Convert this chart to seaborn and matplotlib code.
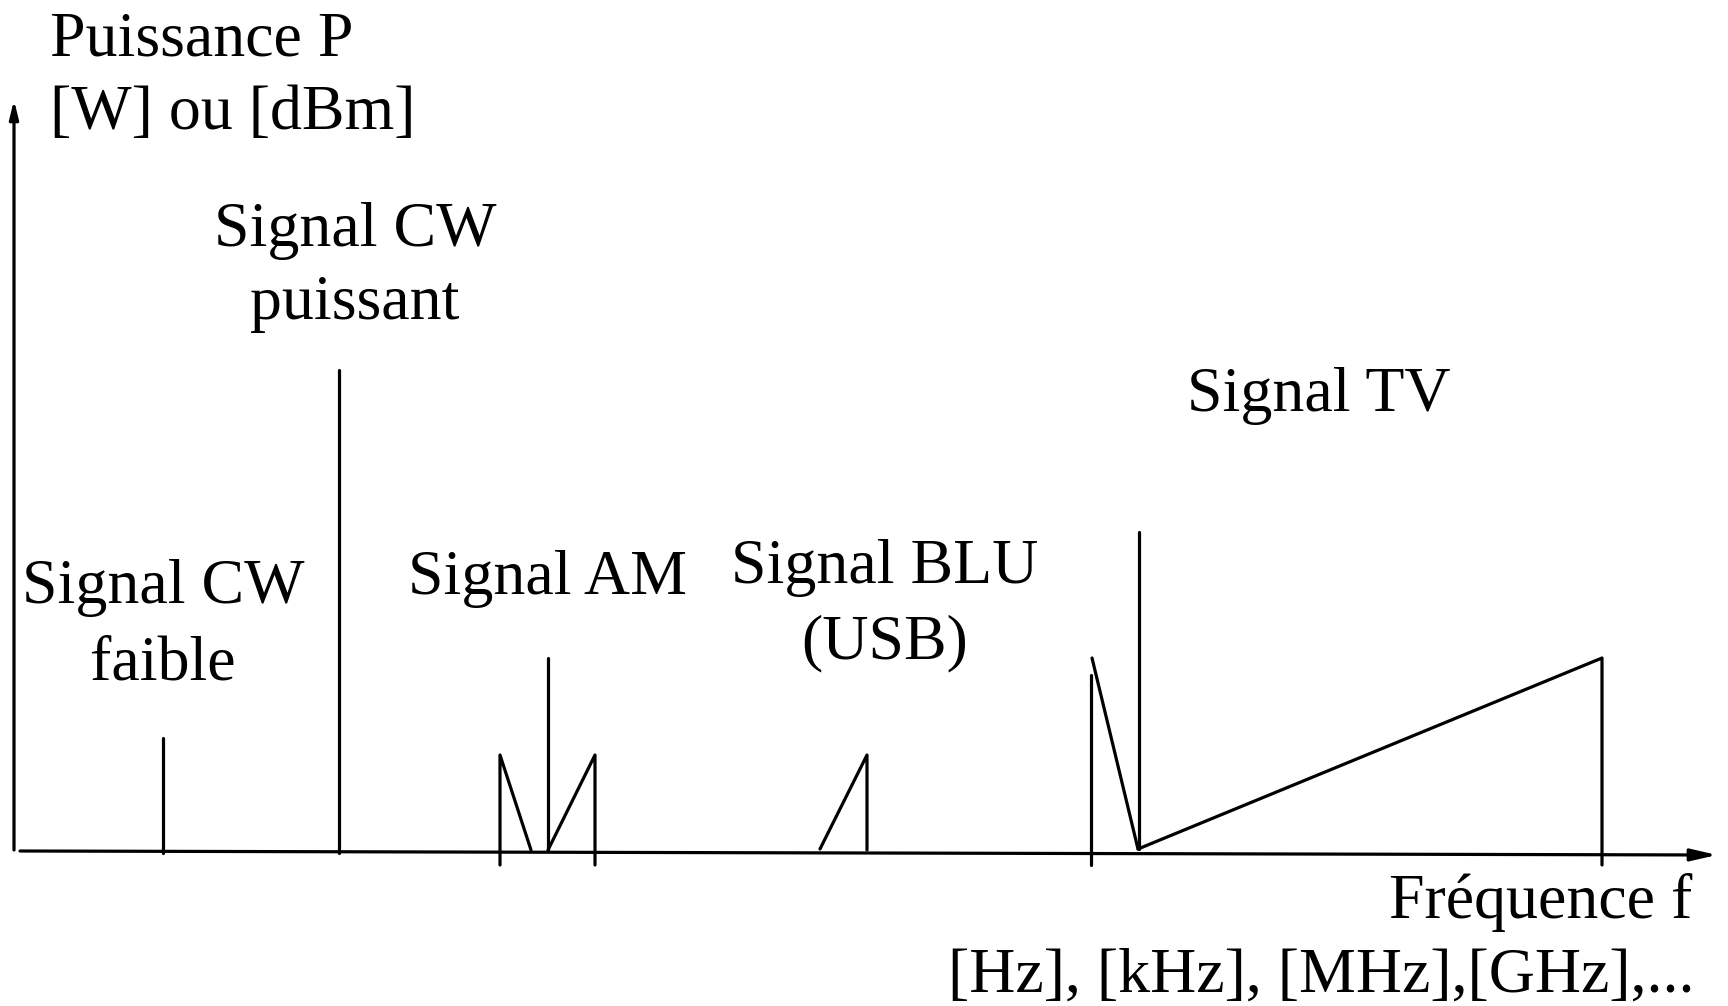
import pandas as pd
import seaborn as sns
import matplotlib.pyplot as plt

# spectrum traces: frequency position / power (baseline = 0)
trace_names = ['cw_faible', 'cw_puissant',
               'am_lsb', 'am_carrier', 'am_usb',
               'blu',
               'tv_left', 'tv_vsb', 'tv_carrier', 'tv_ramp']
trace_f = [[163, 163], [339, 339],
           [500, 500, 531], [548, 548], [548, 595, 595],
           [820, 867, 867],
           [1091, 1091], [1092, 1138], [1139, 1139], [1138, 1602, 1602]]
trace_p = [[0, 115], [0, 483],
           [-12, 98, 3], [3, 195], [3, 98, -12],
           [4, 98, 3],
           [-12, 178], [195, 4], [4, 321], [4, 195, -12]]

rows = []
for name, fs, ps in zip(trace_names, trace_f, trace_p):
    for i, (f, p) in enumerate(zip(fs, ps)):
        rows.append({'trace': name, 'order': i, 'f': f, 'p': p})
df = pd.DataFrame(rows)

sns.set_theme(style='white')
plt.rcParams['font.family'] = ['Liberation Serif', 'DejaVu Serif']
plt.rcParams['text.color'] = 'black'

fig = plt.figure(figsize=(17.28, 10.06), dpi=100)
ax = fig.add_axes([0, 0, 1, 1])

sns.lineplot(data=df, x='f', y='p', units='trace', estimator=None, sort=False,
             color='black', linewidth=2.3, ax=ax, legend=False)

# axes with arrows
ax.annotate('', xy=(14, 753), xytext=(14, 3),
            arrowprops=dict(arrowstyle='-|>,head_length=0.9,head_width=0.22',
                            color='black', lw=2.3, shrinkA=0, shrinkB=0))
ax.annotate('', xy=(1717, -2), xytext=(20, 2),
            arrowprops=dict(arrowstyle='-|>,head_length=1.3,head_width=0.3',
                            color='black', lw=2.3, shrinkA=0, shrinkB=0))

fs = 46
ax.text(50, 813, 'Puissance P', fontsize=fs, ha='left', va='center')
ax.text(50, 739, '[W] ou [dBm]', fontsize=fs, ha='left', va='center')
ax.text(355, 622, 'Signal CW', fontsize=fs, ha='center', va='center')
ax.text(355, 549, 'puissant', fontsize=fs, ha='center', va='center')
ax.text(163, 265, 'Signal CW', fontsize=fs, ha='center', va='center')
ax.text(163, 189, 'faible', fontsize=fs, ha='center', va='center')
ax.text(548, 274, 'Signal AM', fontsize=fs, ha='center', va='center')
ax.text(885, 285, 'Signal BLU', fontsize=fs, ha='center', va='center')
ax.text(885, 210, '(USB)', fontsize=fs, ha='center', va='center')
ax.text(1319, 457, 'Signal TV', fontsize=fs, ha='center', va='center')
ax.text(1692, -50, 'Fréquence f', fontsize=fs, ha='right', va='center')
ax.text(1694, -124, '[Hz], [kHz], [MHz],[GHz],...', fontsize=fs, ha='right', va='center')

ax.set_xlim(0, 1728)
ax.set_ylim(853 - 1006, 853)
ax.axis('off')

fig.savefig('out.png', dpi=100, facecolor='white')
